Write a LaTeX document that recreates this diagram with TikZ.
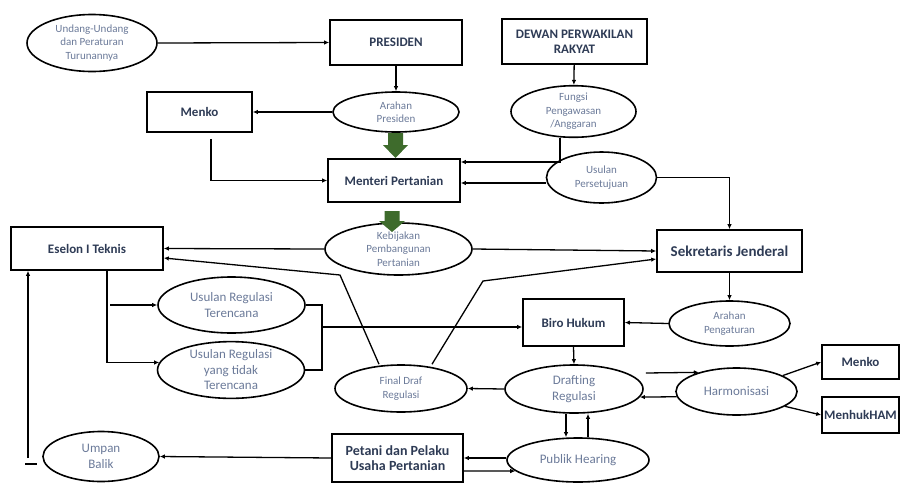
\documentclass[tikz,border=0pt]{standalone}
\usepackage{fontspec}
\setmainfont{Carlito}
\usetikzlibrary{shapes.geometric,arrows.meta}
\definecolor{teksbox}{HTML}{2E3B55}
\definecolor{teksel}{HTML}{6B7A99}
\definecolor{hijau}{HTML}{3E6B2C}
\begin{document}
\begin{tikzpicture}[x=1pt,y=-1pt,
  kotak/.style={draw,line width=1.6pt,rectangle,inner sep=0pt,align=center,text=teksbox,font=\fontsize{13}{15}\selectfont\bfseries},
  elips/.style={draw,line width=1.6pt,ellipse,inner sep=0pt,align=center,text=teksel,font=\fontsize{11}{13.5}\selectfont},
  elipsbesar/.style={elips,font=\fontsize{13}{15.5}\selectfont},
  garis/.style={line width=1.3pt},
  panah/.style={line width=1.3pt,-{Latex[length=5pt,width=4.5pt]}}]

\useasboundingbox (0,0) rectangle (906,483);

\node[elips,minimum width=130pt,minimum height=57pt] (uu) at (92,43) {Undang-Undang\\dan Peraturan\\Turunannya};
\node[kotak,minimum width=132pt,minimum height=45pt] (presiden) at (396,42.5) {PRESIDEN};
\node[kotak,minimum width=145pt,minimum height=45pt] (dpr) at (574.5,41.5) {DEWAN PERWAKILAN\\RAKYAT};
\node[elips,minimum width=126pt,minimum height=40pt] (arahanp) at (396,112) {Arahan\\Presiden};
\node[elips,minimum width=125pt,minimum height=45pt] (fungsi) at (573.5,111.5) {Fungsi\\Pengawasan\\/Anggaran};
\node[kotak,minimum width=105pt,minimum height=40pt] (menko1) at (199.5,112) {Menko};
\node[kotak,minimum width=132pt,minimum height=43pt] (menteri) at (394,180.5) {Menteri Pertanian};
\node[elips,minimum width=110pt,minimum height=51pt] (usulanp) at (601.5,177.5) {Usulan\\Persetujuan};
\node[elips,minimum width=147pt,minimum height=52pt] (kebijakan) at (398.5,249) {Kebijakan\\Pembangunan\\Pertanian};
\node[kotak,minimum width=152pt,minimum height=43pt] (eselon) at (87,248.5) {Eselon I Teknis};
\node[kotak,minimum width=145pt,minimum height=42pt,font=\fontsize{15}{17}\selectfont\bfseries] (sekjen) at (729.5,251) {Sekretaris Jenderal};
\node[elipsbesar,minimum width=147pt,minimum height=56pt] (urt) at (231.5,305) {Usulan Regulasi\\Terencana};
\node[elipsbesar,minimum width=147pt,minimum height=56pt] (urtt) at (231,370) {Usulan Regulasi\\yang tidak\\Terencana};
\node[kotak,minimum width=101pt,minimum height=47pt] (biro) at (573.5,322.5) {Biro Hukum};
\node[elips,minimum width=121pt,minimum height=45pt] (arahanpg) at (729.5,323.5) {Arahan\\Pengaturan};
\node[elips,minimum width=132pt,minimum height=47pt] (final) at (401,388.5) {Final Draf\\Regulasi};
\node[elipsbesar,minimum width=138pt,minimum height=48pt] (drafting) at (574,389) {Drafting\\Regulasi};
\node[elipsbesar,minimum width=121pt,minimum height=47pt] (harmon) at (736.5,391.5) {Harmonisasi};
\node[kotak,minimum width=77pt,minimum height=34pt] (menko2) at (860.5,362) {Menko};
\node[kotak,minimum width=77pt,minimum height=36pt] (menhuk) at (860.5,415) {MenhukHAM};
\node[elipsbesar,minimum width=142pt,minimum height=44pt] (publik) at (578,460) {Publik Hearing};
\node[kotak,minimum width=131pt,minimum height=48pt,font=\fontsize{14}{14.5}\selectfont\bfseries] (petani) at (397.5,458) {Petani dan Pelaku\\Usaha Pertanian};
\node[elipsbesar,minimum width=116pt,minimum height=50pt] (umpan) at (101,456.5) {Umpan\\Balik};

\coordinate (b1) at (340,275);
\coordinate (b2) at (483,281);
\coordinate (cab) at (110,305);
\coordinate (kb) at (322,327);
\coordinate (ub) at (28,458);
\coordinate (t1) at (25,464);
\coordinate (t2) at (37,464);

\draw[panah] (uu.east) -- (presiden.west);
\draw[panah] (presiden) -- (arahanp);
\draw[panah] (arahanp.west) -- (menko1.east);
\draw[panah] ([xshift=11.5pt,yshift=-6pt]menko1.south) |- (menteri.west);
\draw[panah] (dpr) -- (fungsi);
\draw[panah] ([xshift=-13.5pt]fungsi.south) |- ([yshift=18.5pt]menteri.east);
\draw[panah] ([yshift=-5.5pt]usulanp.west) -- ([yshift=-2.5pt]menteri.east);
\draw[panah] (usulanp.east) -| (sekjen.north);
\draw[panah] (kebijakan.west) -- (eselon.east);
\draw[panah] (kebijakan.east) -- (sekjen.west);
\draw[panah] ([xshift=-22pt]final.north) -- (b1) -- ([yshift=-9.5pt]eselon.east);
\draw[panah] ([xshift=31pt]final.north) -- (b2) -- ([yshift=-8pt]sekjen.west);
\draw[panah] ([xshift=20pt]eselon.south) |- (urtt.174);
\draw[panah] (cab) -- (urt.west);
\draw[garis] (urt.east) -| (kb) |- (urtt.east);
\draw[panah] (kb) -- (kb -| biro.west);
\draw[panah] (sekjen.south) -- (arahanpg.north);
\draw[panah] (arahanpg.west) -- (biro.east);
\draw[panah] (biro.south) -- (drafting.north);
\draw[panah] (drafting.west) -- (final.east);
\draw[panah] ([xshift=2pt,yshift=16pt]drafting.east) -- (harmon.153.6);
\draw[panah] (harmon.185.3) -- (drafting.353);
\draw[panah] (harmon.19.5) -- (menko2.west);
\draw[panah] (harmon.-17.7) -- (menhuk.west);
\draw[panah] ([xshift=-8pt]drafting.south) -- ([xshift=-12pt]publik.north);
\draw[panah] ([xshift=10pt]publik.north) -- ([xshift=14pt]drafting.south);
\draw[panah] ([yshift=2pt]publik.west) -- (petani.east);
\draw[panah] ([yshift=-13pt]petani.east) -- (publik.190);
\draw[panah] (petani.west) -- (umpan.east);
\draw[panah] (ub) -- (ub |- eselon.south);
\draw[garis] (t1) -- (t2);

\fill[hijau] (388,133) -- (403,133) -- (403,145) -- (408,145) -- (395.5,158) -- (383,145) -- (388,145) -- cycle;
\fill[hijau] (384.5,211) -- (399.5,211) -- (399.5,221) -- (405,221) -- (392,232) -- (379,221) -- (384.5,221) -- cycle;

\end{tikzpicture}
\end{document}
